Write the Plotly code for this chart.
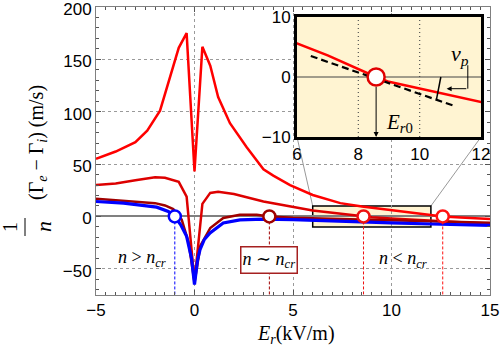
import plotly.graph_objects as go

# ---------------- data ----------------
X_RANGE = [-5, 15]
Y_RANGE = [-75, 200]
INSET_X = [6, 12]
INSET_Y = [-10, 10]

# bright red (highest curve)
xa = [-5, -4, -3, -2.4, -1.75, -1.25, -0.8, -0.4, 0, 0.4, 0.8, 1.2, 1.8, 2.65, 3.3, 3.5, 4.0, 4.85, 6.0, 6.9, 7.4, 8.5, 10.3, 11.95, 12.6, 13.5, 15]
ya = [55, 62, 71, 82, 101, 133, 161, 175, 43, 162, 144, 114, 89, 66, 50, 45, 39, 30, 20.5, 15.9, 12.7, 9.5, 5.5, 1.6, 0, -1.1, -2.5]

# medium red
xb = [-5, -4, -3, -2, -1.5, -1.2, -0.8, -0.4, 0, 0.4, 0.8, 1.2, 2.0, 3.5, 5.2, 6, 7, 8, 8.58, 9, 10, 11, 12, 13, 14, 15]
yb = [30, 31.5, 34.5, 37.5, 37, 35.5, 33, 19, -62, 12, 22.5, 23.5, 21.5, 14.3, 8, 5.6, 3.6, 1.3, 0, -0.8, -2.0, -3.2, -4.4, -5.3, -6.1, -6.8]

# dark red
xc = [-5, -4, -3, -2, -1.5, -1.08, -0.65, -0.3, 0, 0.3, 0.8, 1.46, 2.3, 3.16, 3.8, 5, 7.4, 10, 12, 15]
yc = [16.8, 15.5, 14.5, 12.7, 10.5, 7, -3, -25, -63, -28, -11, -1.5, 1.6, 1.6, 0, -1.2, -2.5, -3.8, -4.8, -6]

# blue
xd = [-5, -3.6, -1.92, -1.33, -1.0, -0.7, -0.4, -0.15, 0, 0.15, 0.28, 0.5, 0.79, 1.46, 2.31, 3.5, 5, 7.4, 10, 12, 15]
yd = [14.3, 12.7, 8.9, 4.8, 0, -8, -19, -40, -65, -42, -31.7, -22, -15.8, -6.3, -3.2, -2.5, -3, -4.7, -6.2, -7.2, -8.6]

# zero crossings
cross_x = [-1.0, 3.8, 8.58, 12.6]
cross_colors = ["#0000FF", "#A00000", "#EE1111", "#FF1111"]

# tangent at E_r0 in inset
tan_x = [6.45, 11.17]
tan_y = [3.5, -4.9]

# nu_p marker pieces (inset coordinates)
angle_x = [10.55, 10.69]
angle_y = [-3.7, 0]
bend_x = [11.57, 11.57]
bend_y = [1.96, -1.95]
bend_tip_x = 10.88

RED = "#FF0000"
MRED = "#DD0000"
DRED = "#A00000"
BLUE = "#0000FF"
INSET_BG = "#FFF4D2"
SERIF = "Liberation Serif, DejaVu Serif, serif"
SANS = "Liberation Sans, Arial, sans-serif"

fig = go.Figure()

# main curves
fig.add_trace(go.Scatter(x=xa, y=ya, mode="lines", line=dict(color=RED, width=2.5)))
fig.add_trace(go.Scatter(x=xb, y=yb, mode="lines", line=dict(color=MRED, width=2.5)))
fig.add_trace(go.Scatter(x=xc, y=yc, mode="lines", line=dict(color=DRED, width=2.5)))
fig.add_trace(go.Scatter(x=xd, y=yd, mode="lines", line=dict(color=BLUE, width=3.2)))

# dashed drop lines and circles
for cx, col in zip(cross_x, cross_colors):
    fig.add_trace(go.Scatter(x=[cx, cx], y=[0, Y_RANGE[0]], mode="lines",
                             line=dict(color=col, width=1, dash="3px,2px")))
for cx, col in zip(cross_x, cross_colors):
    fig.add_trace(go.Scatter(x=[cx], y=[0], mode="markers",
                             marker=dict(size=12, color="white", line=dict(color=col, width=2.5))))

# ---------------- inset ----------------
fig.add_trace(go.Scatter(x=[INSET_X[0], INSET_X[1], INSET_X[1], INSET_X[0], INSET_X[0]],
                         y=[INSET_Y[0], INSET_Y[0], INSET_Y[1], INSET_Y[1], INSET_Y[0]],
                         mode="lines", fill="toself", fillcolor=INSET_BG,
                         line=dict(width=0, color=INSET_BG), xaxis="x2", yaxis="y2"))
for gx in [8, 10]:
    fig.add_trace(go.Scatter(x=[gx, gx], y=INSET_Y, mode="lines",
                             line=dict(color="#555555", width=1.2, dash="1px,3px"),
                             xaxis="x2", yaxis="y2"))
fig.add_trace(go.Scatter(x=INSET_X, y=[0, 0], mode="lines",
                         line=dict(color="#444444", width=1), xaxis="x2", yaxis="y2"))
fig.add_trace(go.Scatter(x=xb, y=yb, mode="lines", line=dict(color=RED, width=2.5),
                         xaxis="x2", yaxis="y2"))
fig.add_trace(go.Scatter(x=tan_x, y=tan_y, mode="lines",
                         line=dict(color="black", width=2.2, dash="7px,4px"),
                         xaxis="x2", yaxis="y2"))
fig.add_trace(go.Scatter(x=angle_x, y=angle_y, mode="lines",
                         line=dict(color="black", width=1.5), xaxis="x2", yaxis="y2"))
fig.add_trace(go.Scatter(x=bend_x, y=bend_y, mode="lines",
                         line=dict(color="black", width=1), xaxis="x2", yaxis="y2"))
fig.add_trace(go.Scatter(x=[cross_x[2]], y=[0], mode="markers",
                         marker=dict(size=17, color="white", line=dict(color="#E00000", width=2.5)),
                         xaxis="x2", yaxis="y2"))

# domains
main_l, main_r, main_t, main_b = 96, 490, 7, 295
W, H = 501, 348
pw, ph = main_r - main_l, main_b - main_t
ins_l, ins_r, ins_t, ins_b = 297, 481, 17, 137
dx2 = [(ins_l - main_l) / pw, (ins_r - main_l) / pw]
dy2 = [(main_b - ins_b) / ph, (main_b - ins_t) / ph]

tickfont = dict(family=SANS, size=17, color="black")

fig.update_layout(
    template="none",
    width=W, height=H,
    margin=dict(l=main_l, r=W - main_r, t=main_t, b=H - main_b, autoexpand=False),
    paper_bgcolor="white", plot_bgcolor="white",
    showlegend=False,
    xaxis=dict(range=X_RANGE, tickvals=[-5, 0, 5, 10, 15], showgrid=True,
               gridcolor="#9a9a9a", griddash="dot", gridwidth=1, zeroline=False,
               showline=True, linecolor="#808080", linewidth=1, mirror="ticks",
               ticks="inside", ticklen=5, tickcolor="#555555", automargin=False,
               ticklabeloverflow="allow",
               minor=dict(dtick=0.5, ticks="inside", ticklen=3, tickcolor="#555555", showgrid=False),
               tickfont=tickfont, domain=[0, 1]),
    yaxis=dict(range=Y_RANGE, tickvals=[-50, 0, 50, 100, 150, 200], showgrid=True,
               gridcolor="#9a9a9a", griddash="dot", gridwidth=1, zeroline=True,
               zerolinecolor="#808080", zerolinewidth=1.5, automargin=False,
               showline=True, linecolor="#808080", linewidth=1, mirror="ticks",
               ticks="inside", ticklen=5, tickcolor="#555555", ticklabeloverflow="allow",
               minor=dict(dtick=10, ticks="inside", ticklen=3, tickcolor="#555555", showgrid=False),
               tickfont=tickfont, ticklabelstandoff=0, ticklabelshift=2, domain=[0, 1]),
    xaxis2=dict(range=INSET_X, tickvals=[6, 8, 10, 12], domain=dx2, anchor="y2",
                showgrid=False, zeroline=False, showline=True, linecolor="black", linewidth=3,
                mirror=True, ticks="", tickfont=tickfont, ticklabelstandoff=0, automargin=False,
                ticklabeloverflow="allow"),
    yaxis2=dict(range=INSET_Y, tickvals=[-10, 0, 10], domain=dy2, anchor="x2",
                showgrid=False, zeroline=False, showline=True, linecolor="black", linewidth=3,
                mirror=True, ticks="", tickfont=tickfont, ticklabelstandoff=0, automargin=False,
                ticklabeloverflow="allow"),
)

# zoom rectangle in main plot
fig.add_shape(type="rect", xref="x", yref="y", x0=INSET_X[0], x1=INSET_X[1],
              y0=INSET_Y[0], y1=INSET_Y[1], fillcolor=INSET_BG,
              line=dict(color="black", width=1.5), layer="below")
# connector lines
def px_main(v):
    return (v - X_RANGE[0]) / (X_RANGE[1] - X_RANGE[0])
def py_main(v):
    return (v - Y_RANGE[0]) / (Y_RANGE[1] - Y_RANGE[0])
fig.add_shape(type="line", xref="paper", yref="paper",
              x0=px_main(INSET_X[0]), y0=py_main(INSET_Y[1]), x1=dx2[0], y1=dy2[0],
              line=dict(color="#999999", width=1), layer="below")
fig.add_shape(type="line", xref="paper", yref="paper",
              x0=px_main(INSET_X[1]), y0=py_main(INSET_Y[1]), x1=dx2[1], y1=dy2[0],
              line=dict(color="#999999", width=1), layer="below")

C = dict(xanchor="center", yanchor="middle", showarrow=False)

# region labels
lab = dict(family=SERIF, size=18, color="black")
fig.add_annotation(x=-2.66, y=-40, xref="x", yref="y",
                   text="<i>n</i> > <i>n</i><sub><i>cr</i></sub>", font=lab, **C)
fig.add_annotation(x=3.76, y=-42, xref="x", yref="y",
                   text="<i>n</i> ∼ <i>n</i><sub><i>cr</i></sub>", font=lab,
                   bgcolor="white", bordercolor="#A52020", borderwidth=1.5, borderpad=1, **C)
fig.add_annotation(x=10.6, y=-41, xref="x", yref="y",
                   text="<i>n</i> < <i>n</i><sub><i>cr</i></sub>", font=lab, **C)

# inset annotations
fig.add_annotation(x=cross_x[2], y=INSET_Y[0], ax=cross_x[2], ay=-1.4, xref="x2", yref="y2",
                   axref="x2", ayref="y2", showarrow=True, arrowhead=2, arrowsize=1,
                   arrowwidth=1, arrowcolor="black", text="")
fig.add_annotation(x=9.35, y=-7.6, xref="x2", yref="y2",
                   text="<i>E</i><sub><i>r</i>0</sub>", font=dict(family=SERIF, size=21, color="black"), **C)
fig.add_annotation(x=bend_tip_x, y=bend_y[1], ax=bend_x[1], ay=bend_y[1], xref="x2", yref="y2",
                   axref="x2", ayref="y2", showarrow=True, arrowhead=2, arrowsize=1,
                   arrowwidth=1, arrowcolor="black", text="")
fig.add_annotation(x=11.3, y=3.7, xref="x2", yref="y2",
                   text="<i>ν</i><sub><i>p</i></sub>", font=dict(family=SERIF, size=22, color="black"), **C)

# axis titles
fig.add_annotation(x=(296 - main_l) / pw, y=(main_b - 334) / ph, xref="paper", yref="paper",
                   text="<i>E</i><sub><i>r</i></sub>(kV/m)",
                   font=dict(family=SERIF, size=20, color="black"), **C)
fig.add_annotation(x=(37 - main_l) / pw, y=(main_b - 143) / ph, xref="paper", yref="paper",
                   textangle=-90,
                   text="(Γ<sub><i>e</i></sub> − Γ<sub><i>i</i></sub>) (m/s)",
                   font=dict(family=SERIF, size=20, color="black"), **C)
fig.add_annotation(x=(10 - main_l) / pw, y=(main_b - 227) / ph, xref="paper", yref="paper",
                   textangle=-90, text="1",
                   font=dict(family=SERIF, size=20, color="black"), **C)
fig.add_annotation(x=(43 - main_l) / pw, y=(main_b - 227) / ph, xref="paper", yref="paper",
                   textangle=-90, text="<i>n</i>",
                   font=dict(family=SERIF, size=22, color="black"), **C)
fig.add_shape(type="line", xref="paper", yref="paper",
              x0=(25 - main_l) / pw, x1=(25 - main_l) / pw,
              y0=(main_b - 236) / ph, y1=(main_b - 218) / ph,
              line=dict(color="black", width=1))

fig.write_html("out.html", config={"displayModeBar": False},
               post_script="document.body.style.margin='0px';")
